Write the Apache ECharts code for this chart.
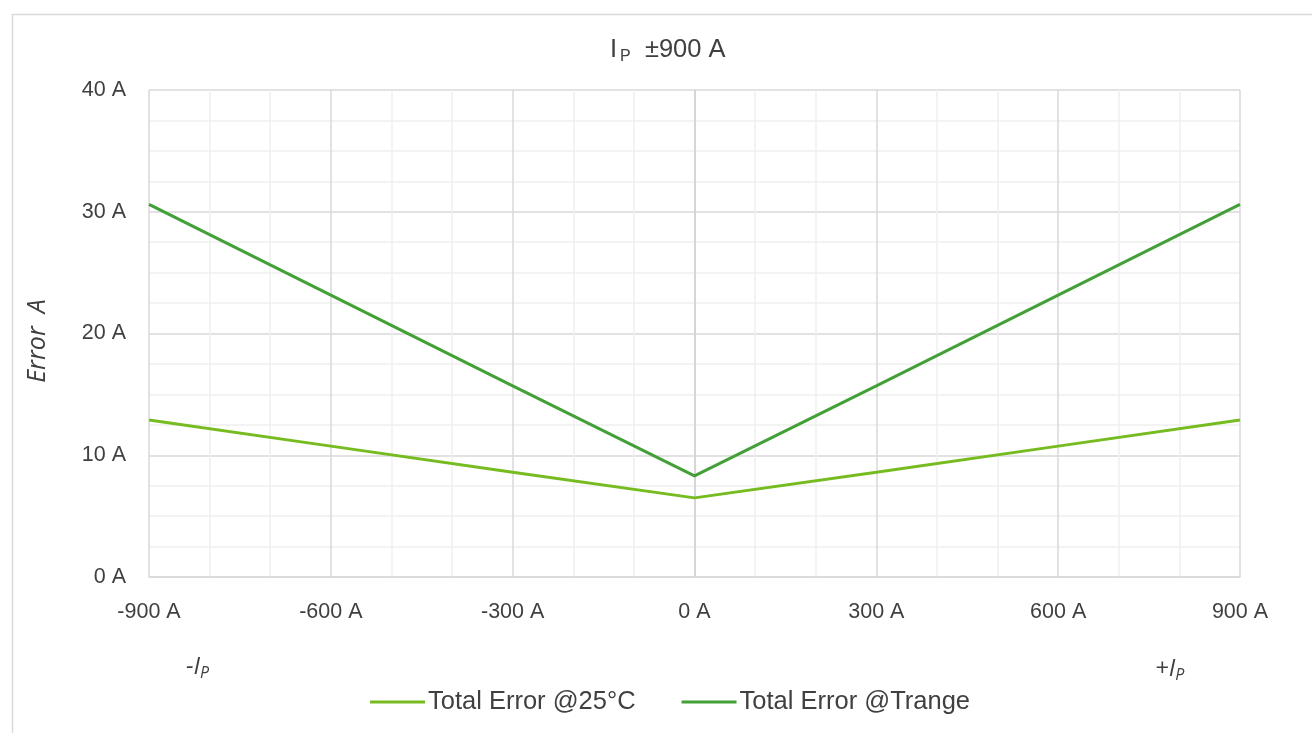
<!DOCTYPE html>
<html><head><meta charset="utf-8">
<script src="https://cdn.jsdelivr.net/npm/echarts@6/dist/echarts.min.js"></script>
<style>html,body{margin:0;padding:0;background:#fff}#c{width:1312px;height:733px}</style>
</head><body><div id="c"></div>
<script>
const currents = [-900, -600, -300, 0, 300, 600, 900];
const err25 = [12.9, 10.75, 8.6, 6.5, 8.6, 10.75, 12.9];
const errTrange = [30.6, 23.15, 15.7, 8.3, 15.7, 23.15, 30.6];
const seriesNames = ['Total Error @25°C', 'Total Error @Trange'];
const FONT = '"Liberation Sans", Arial, sans-serif';
const IFONT = '"Open Sans", sans-serif';

const chart = echarts.init(document.getElementById('c'));
chart.setOption({
  animation: false,
  title: {
    text: '{i|I}{s|P}{i|  ±900 A}',
    left: 610, top: 35, padding: 0,
    textStyle: {
      fontWeight: 'normal',
      rich: {
        i: { fontSize: 25.5, color: '#404040', fontFamily: FONT, fontWeight: 'normal' },
        s: { fontSize: 16, color: '#404040', fontFamily: FONT, fontWeight: 'normal', padding: [14, 0, 0, 3] }
      }
    }
  },
  grid: { left: 149, right: 72, top: 90, bottom: 156 },
  legend: {
    bottom: 13, left: 365,
    itemWidth: 55, itemHeight: 3, itemGap: 46,
    icon: 'rect',
    textStyle: { fontSize: 25.5, color: '#404040', fontFamily: FONT, padding: [0, 0, 0, -2] },
    data: seriesNames
  },
  xAxis: {
    type: 'value', min: -900, max: 900, interval: 300,
    axisLine: { show: true, onZero: false, lineStyle: { color: '#d9d9d9', width: 1.5 } },
    axisTick: { show: false },
    axisLabel: { fontSize: 21.5, color: '#404040', fontFamily: FONT, margin: 24, formatter: v => v + ' A' },
    splitLine: { show: true, lineStyle: { color: ['#d9d9d9','#d9d9d9','#d9d9d9','#bfbfbf','#d9d9d9','#d9d9d9','#d9d9d9'], width: 1.5 } },
    minorTick: { show: false, splitNumber: 3 },
    minorSplitLine: { show: true, lineStyle: { color: '#f0f0f0', width: 1.5 } }
  },
  yAxis: {
    type: 'value', min: 0, max: 40, interval: 10,
    axisLine: { show: true, lineStyle: { color: '#d9d9d9', width: 1.5 } },
    axisTick: { show: false },
    axisLabel: { fontSize: 21.5, color: '#404040', fontFamily: FONT, margin: 23, formatter: v => v + ' A' },
    splitLine: { show: true, lineStyle: { color: '#d9d9d9', width: 1.5 } },
    minorTick: { show: false, splitNumber: 4 },
    minorSplitLine: { show: true, lineStyle: { color: '#f0f0f0', width: 1.5 } }
  },
  graphic: [
    { type: 'rect', left: 10, top: 12, shape: { width: 1320, height: 740 }, style: { fill: 'none', stroke: '#d9d9d9', lineWidth: 1.5 }, silent: true, z: -10 },
    { type: 'text', x: 38, y: 341, rotation: Math.PI / 2, style: { text: 'Error  A', fontSize: 25, fontStyle: 'italic', fill: '#404040', fontFamily: IFONT, align: 'center', verticalAlign: 'middle' } },
    { type: 'text', left: 186, top: 655, style: { text: '{m|-I}{s|P}', rich: { m: { fontSize: 24, fontStyle: 'italic', fill: '#404040', fontFamily: IFONT }, s: { fontSize: 16, fontStyle: 'italic', fill: '#404040', fontFamily: IFONT, padding: [12, 0, 0, 0] } } } },
    { type: 'text', left: 1155, top: 657, style: { text: '{m|+I}{s|P}', rich: { m: { fontSize: 24, fontStyle: 'italic', fill: '#404040', fontFamily: IFONT }, s: { fontSize: 16, fontStyle: 'italic', fill: '#404040', fontFamily: IFONT, padding: [12, 0, 0, 0] } } } }
  ],
  series: [
    { name: seriesNames[0], type: 'line', data: currents.map((x, i) => [x, err25[i]]), showSymbol: false, lineStyle: { color: '#76bc21', width: 3 }, itemStyle: { color: '#76bc21' } },
    { name: seriesNames[1], type: 'line', data: currents.map((x, i) => [x, errTrange[i]]), showSymbol: false, lineStyle: { color: '#43a037', width: 3 }, itemStyle: { color: '#43a037' } }
  ]
});
</script></body></html>
